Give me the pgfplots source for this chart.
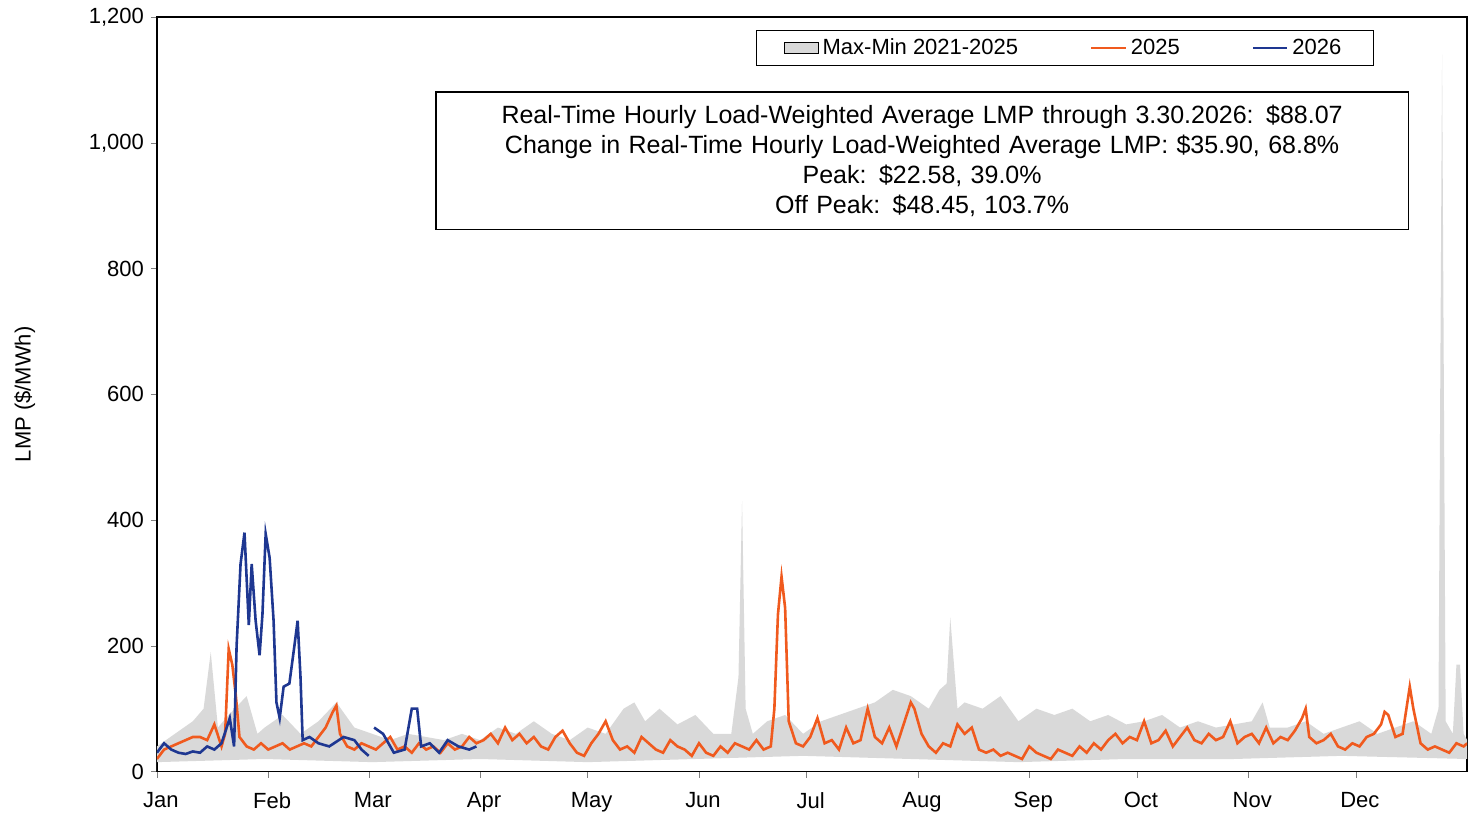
\documentclass[border=0pt]{standalone}
\usepackage{pgfplots}
\pgfplotsset{compat=1.18}
\usepackage{fontspec}
\setmainfont{Liberation Sans}
\definecolor{org}{RGB}{240,90,30}
\definecolor{blu}{RGB}{30,55,145}
\definecolor{band}{RGB}{217,217,217}
\begin{document}
\begin{tikzpicture}
\begin{axis}[at={(0,0)},anchor=south west,scale only axis,width=655.5pt,height=377.5pt,
 xmin=0,xmax=365,ymin=0,ymax=1200,
 xtick={0,31,59,90,120,151,181,212,243,273,304,334},
 xticklabels={Jan,Feb,Mar,Apr,May,Jun,Jul,Aug,Sep,Oct,Nov,Dec},
 ytick={0,200,400,600,800,1000,1200},
 yticklabel style={/pgf/number format/1000 sep={,}},
 /pgf/number format/assume math mode=true,
 tick align=outside, tick pos=left, major tick length=3pt,
 ticklabel style={font=\fontsize{11}{13}\selectfont},
 xticklabel style={yshift=-4pt,xshift=2pt},
 ylabel={LMP (\$/MWh)}, ylabel style={font=\fontsize{11}{13}\selectfont, yshift=20pt},
 axis line style={black,line width=0.8pt},
 legend columns=3,
 legend style={at={(0.929,0.983)},anchor=north east,draw=black,line width=0.8pt,
   font=\fontsize{11}{13}\selectfont,inner xsep=14pt,/tikz/every even column/.append style={column sep=34pt}},
 legend cell align=left,
]
\addlegendimage{area legend,fill=band,draw=none,line width=0pt}
\addlegendentry{Max-Min 2021-2025}
\addplot[fill=band,draw=none,forget plot] coordinates {(0,40)(5,60)(10,80)(13,100)(15,190)(17,70)(20,90)(25,120)(28,60)(30,70)(35,90)(40,60)(45,80)(50,110)(55,70)(60,60)(65,50)(70,60)(75,55)(80,50)(85,60)(90,50)(95,70)(100,60)(105,80)(110,60)(115,50)(120,70)(125,60)(130,100)(133,110)(136,80)(140,100)(145,75)(150,90)(155,60)(160,60)(162,150)(163,430)(164,100)(166,60)(170,80)(175,90)(180,60)(185,80)(190,90)(195,100)(200,110)(205,130)(210,120)(215,100)(218,130)(220,140)(221,245)(223,100)(225,110)(230,100)(235,120)(240,80)(245,100)(250,90)(255,100)(260,80)(265,90)(270,75)(275,80)(280,90)(285,70)(290,80)(295,70)(300,75)(305,80)(308,110)(310,70)(315,70)(320,80)(325,60)(330,70)(335,80)(340,60)(345,70)(350,80)(355,60)(357,100)(358,1140)(359,80)(361,60)(362,170)(363,170)(364,60)(365,50)
 (365,20)(330,25)(300,20)(270,20)(240,15)(210,20)(180,25)(150,20)(120,15)(90,20)(60,15)(30,20)(0,15)} \closedcycle;
\addplot[org,line width=1.3pt] coordinates {(0,20)(2,35)(4,40)(6,45)(8,50)(10,55)(12,55)(14,50)(16,75)(18,40)(19,60)(20,195)(21,170)(22,120)(23,55)(25,40)(27,35)(29,45)(31,35)(33,40)(35,45)(37,35)(39,40)(41,45)(43,40)(45,55)(47,70)(49,95)(50,105)(51,60)(53,40)(55,35)(57,45)(59,40)(61,35)(63,45)(65,55)(67,35)(69,40)(71,30)(73,45)(75,35)(77,40)(79,30)(81,45)(83,35)(85,40)(87,55)(89,45)(91,50)(93,60)(95,45)(97,70)(99,50)(101,60)(103,45)(105,55)(107,40)(109,35)(111,55)(113,65)(115,45)(117,30)(119,25)(121,45)(123,60)(125,80)(127,50)(129,35)(131,40)(133,30)(135,55)(137,45)(139,35)(141,30)(143,50)(145,40)(147,35)(149,25)(151,45)(153,30)(155,25)(157,40)(159,30)(161,45)(163,40)(165,35)(167,50)(169,35)(171,40)(172,100)(173,250)(174,310)(175,260)(176,80)(178,45)(180,40)(182,55)(184,85)(186,45)(188,50)(190,35)(192,70)(194,45)(196,50)(198,100)(200,55)(202,45)(204,70)(206,40)(208,75)(210,110)(211,100)(213,60)(215,40)(217,30)(219,45)(221,40)(223,75)(225,60)(227,70)(229,35)(231,30)(233,35)(235,25)(237,30)(239,25)(241,20)(243,40)(245,30)(247,25)(249,20)(251,35)(253,30)(255,25)(257,40)(259,30)(261,45)(263,35)(265,50)(267,60)(269,45)(271,55)(273,50)(275,80)(277,45)(279,50)(281,65)(283,40)(285,55)(287,70)(289,50)(291,45)(293,60)(295,50)(297,55)(299,80)(301,45)(303,55)(305,60)(307,45)(309,70)(311,45)(313,55)(315,50)(317,65)(319,85)(320,100)(321,55)(323,45)(325,50)(327,60)(329,40)(331,35)(333,45)(335,40)(337,55)(339,60)(341,75)(342,95)(343,90)(345,55)(347,60)(349,135)(350,100)(352,45)(354,35)(356,40)(358,35)(360,30)(362,45)(364,40)(365,45)};
\addlegendentry{2025}
\addplot[blu,line width=1.3pt] coordinates {(0,30)(2,45)(4,35)(6,30)(8,28)(10,32)(12,30)(14,40)(16,35)(18,45)(20.3,85)(21.5,40)(22.2,200)(23.3,330)(24.4,380)(25.6,233)(26.4,330)(27.5,240)(28.6,185)(29.4,250)(30.3,378)(31.4,340)(32.5,240)(33.3,110)(34.2,85)(35.3,135)(36.9,140)(38.3,200)(39.2,240)(40,150)(40.6,50)(42.5,55)(45,45)(48,40)(52,55)(55,50)(57,35)(59,25)};
\addlegendentry{2026}
\addplot[blu,line width=1.3pt,forget plot] coordinates {(60.5,70)(63,60)(66,30)(69,35)(71,100)(72.5,100)(73.6,40)(76,45)(78.6,30)(81,50)(84,40)(87,35)(89,40)};
\node[draw=black,line width=0.8pt,align=center,text width=480pt,minimum height=69pt,anchor=north,
 font=\fontsize{12.5}{15}\selectfont] at (rel axis cs:0.584,0.902)
 {Real-Time Hourly Load-Weighted Average LMP through 3.30.2026: \$88.07\\
  Change in Real-Time Hourly Load-Weighted Average LMP: \$35.90, 68.8\%\\
  Peak: \$22.58, 39.0\%\\ Off Peak: \$48.45, 103.7\%};
\end{axis}
\useasboundingbox (-78.5pt,-22pt) rectangle (655.5pt,386pt);
\end{tikzpicture}
\end{document}
